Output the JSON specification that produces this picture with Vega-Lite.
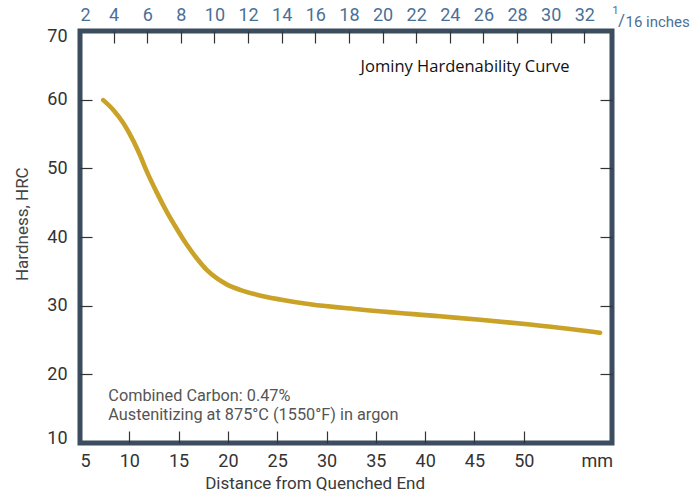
{
  "$schema": "https://vega.github.io/schema/vega-lite/v6.json",
  "width": 532,
  "height": 412,
  "autosize": "none",
  "padding": {"left": 80, "top": 31, "right": 79, "bottom": 53},
  "background": "white",
  "config": {
    "view": {"stroke": "#3b4d5e", "strokeWidth": 5},
    "axis": {
      "domain": false,
      "grid": false,
      "labelFont": "Roboto",
      "labelFontSize": 18,
      "labelColor": "#333333",
      "titleFont": "Roboto",
      "titleFontSize": 17,
      "titleFontWeight": "normal",
      "titleColor": "#3a3a3a",
      "tickColor": "#333333",
      "tickSize": 12,
      "tickWidth": 1.2
    }
  },
  "layer": [
    {
      "data": {"values": [
        {"mm": 7.36, "hrc": 59.93},
        {"mm": 8.38, "hrc": 58.5},
        {"mm": 9.39, "hrc": 56.6},
        {"mm": 10.41, "hrc": 54.0},
        {"mm": 11.09, "hrc": 51.9},
        {"mm": 11.76, "hrc": 49.6},
        {"mm": 12.78, "hrc": 46.5},
        {"mm": 13.79, "hrc": 43.7},
        {"mm": 14.81, "hrc": 41.2},
        {"mm": 15.82, "hrc": 38.9},
        {"mm": 16.84, "hrc": 36.9},
        {"mm": 17.85, "hrc": 35.2},
        {"mm": 18.86, "hrc": 34.0},
        {"mm": 19.88, "hrc": 33.1},
        {"mm": 21.23, "hrc": 32.3},
        {"mm": 22.92, "hrc": 31.6},
        {"mm": 25.28, "hrc": 30.9},
        {"mm": 28.33, "hrc": 30.2},
        {"mm": 33.4, "hrc": 29.45},
        {"mm": 41.51, "hrc": 28.45},
        {"mm": 45.57, "hrc": 27.95},
        {"mm": 50.64, "hrc": 27.25},
        {"mm": 57.74, "hrc": 26.05}
      ]},
      "mark": {"type": "line", "color": "#c9a227", "strokeWidth": 4.6, "interpolate": "monotone", "strokeCap": "round"},
      "encoding": {
        "x": {
          "field": "mm", "type": "quantitative",
          "scale": {"domain": [5, 58.95], "nice": false, "zero": false},
          "axis": {
            "orient": "bottom",
            "offset": -12,
            "values": [5, 10, 15, 20, 25, 30, 35, 40, 45, 50, 57.4],
            "labelExpr": "datum.value > 55 ? 'mm' : datum.label",
            "tickOpacity": {"condition": {"test": "datum.value > 55 || datum.value < 6", "value": 0}, "value": 1},
            "labelPadding": 9.5,
            "title": "Distance from Quenched End",
            "titleX": 234.6,
            "titleY": 57.5,
            "titleBaseline": "alphabetic",
            "titleAlign": "center"
          }
        },
        "y": {
          "field": "hrc", "type": "quantitative",
          "scale": {"domain": [10, 70], "nice": false, "zero": false},
          "axis": {
            "orient": "left",
            "offset": -12,
            "values": [10, 20, 30, 40, 50, 60, 70],
            "labelFlush": true,
            "labelFlushOffset": 4,
            "tickOpacity": {"condition": {"test": "datum.value > 65 || datum.value < 15", "value": 0}, "value": 1},
            "labelPadding": 13,
            "title": "Hardness, HRC",
            "titleX": -64.5,
            "titleY": 192.7,
            "titleBaseline": "alphabetic",
            "titleAngle": -90,
            "titleAlign": "center",
            "titleColor": "#444444"
          }
        }
      }
    },
    {
      "data": {"values": [{"s": 2, "h": 10}]},
      "mark": {"type": "point", "opacity": 0},
      "encoding": {
        "x": {
          "field": "s", "type": "quantitative",
          "scale": {"domain": [2, 33.65], "nice": false, "zero": false},
          "axis": {
            "orient": "top",
            "offset": -12,
            "values": [2, 4, 6, 8, 10, 12, 14, 16, 18, 20, 22, 24, 26, 28, 30, 32],
            "labelColor": "#4b7098",
            "labelPadding": 7,
            "tickOpacity": {"condition": {"test": "datum.value < 3", "value": 0}, "value": 1},
            "title": null
          }
        },
        "y": {
          "field": "h", "type": "quantitative",
          "scale": {"domain": [10, 70], "nice": false, "zero": false},
          "axis": {
            "orient": "right",
            "offset": -12,
            "values": [20, 30, 40, 50, 60],
            "labels": false,
            "title": null
          }
        }
      }
    },
    {
      "data": {"values": [{"mm": 44.05, "hrc": 64.02, "t": "Jominy Hardenability Curve"}]},
      "mark": {"type": "text", "font": "Open Sans", "fontSize": 16.5, "color": "#111111", "align": "center", "baseline": "alphabetic"},
      "encoding": {
        "x": {"field": "mm", "type": "quantitative", "scale": {"domain": [5, 58.95], "nice": false, "zero": false}, "axis": null},
        "y": {"field": "hrc", "type": "quantitative", "scale": {"domain": [10, 70], "nice": false, "zero": false}, "axis": null},
        "text": {"field": "t"}
      }
    },
    {
      "data": {"values": [
        {"mm": 7.87, "hrc": 16.06, "t": "Combined Carbon: 0.47%"},
        {"mm": 7.87, "hrc": 13.42, "t": "Austenitizing at 875°C (1550°F) in argon"}
      ]},
      "mark": {"type": "text", "font": "Roboto", "fontSize": 16.3, "color": "#555555", "align": "left", "baseline": "alphabetic"},
      "encoding": {
        "x": {"field": "mm", "type": "quantitative", "scale": {"domain": [5, 58.95], "nice": false, "zero": false}, "axis": null},
        "y": {"field": "hrc", "type": "quantitative", "scale": {"domain": [10, 70], "nice": false, "zero": false}, "axis": null},
        "text": {"field": "t"}
      }
    },
    {
      "data": {"values": [{"s": 33.66, "h": 72.5, "t": "1"}]},
      "mark": {"type": "text", "font": "Roboto", "fontSize": 11.5, "color": "#4b7098", "align": "left", "baseline": "alphabetic"},
      "encoding": {
        "x": {"field": "s", "type": "quantitative", "scale": {"domain": [2, 33.65], "nice": false, "zero": false}, "axis": null},
        "y": {"field": "h", "type": "quantitative", "scale": {"domain": [10, 70], "nice": false, "zero": false}, "axis": null},
        "text": {"field": "t"}
      }
    },
    {
      "data": {"values": [{"s": 34.0, "h": 70.7, "t": "/"}]},
      "mark": {"type": "text", "font": "Roboto", "fontSize": 17, "color": "#4b7098", "align": "left", "baseline": "alphabetic"},
      "encoding": {
        "x": {"field": "s", "type": "quantitative", "scale": {"domain": [2, 33.65], "nice": false, "zero": false}, "axis": null},
        "y": {"field": "h", "type": "quantitative", "scale": {"domain": [10, 70], "nice": false, "zero": false}, "axis": null},
        "text": {"field": "t"}
      }
    },
    {
      "data": {"values": [{"s": 34.45, "h": 70.6, "t": "16 inches"}]},
      "mark": {"type": "text", "font": "Roboto", "fontSize": 15, "color": "#4b7098", "align": "left", "baseline": "alphabetic"},
      "encoding": {
        "x": {"field": "s", "type": "quantitative", "scale": {"domain": [2, 33.65], "nice": false, "zero": false}, "axis": null},
        "y": {"field": "h", "type": "quantitative", "scale": {"domain": [10, 70], "nice": false, "zero": false}, "axis": null},
        "text": {"field": "t"}
      }
    }
  ],
  "resolve": {"scale": {"x": "independent", "y": "independent"}}
}
